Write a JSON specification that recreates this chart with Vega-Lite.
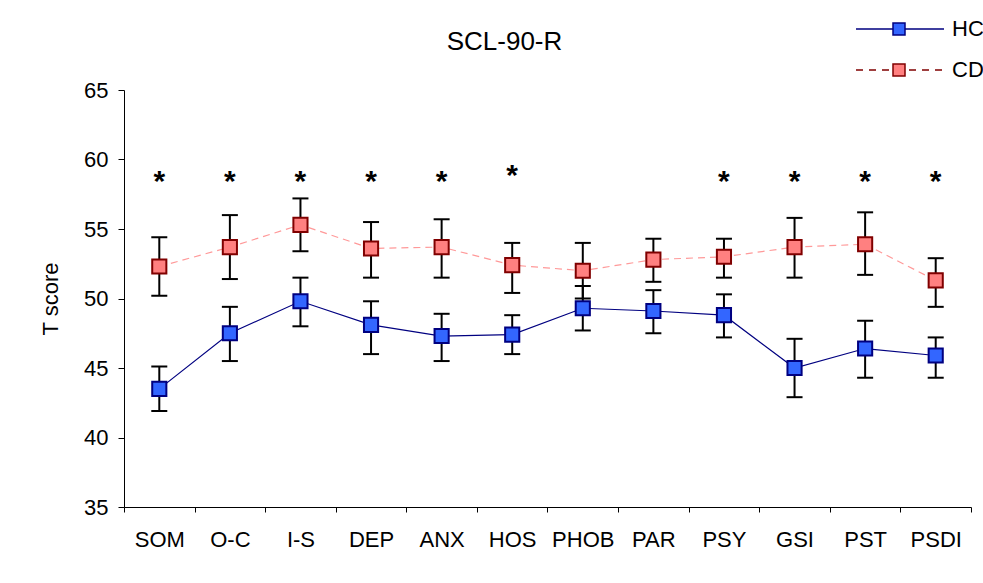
{
  "$schema": "https://vega.github.io/schema/vega-lite/v6.json",
  "width": 847,
  "height": 417,
  "autosize": "none",
  "padding": {"left": 124, "top": 90, "right": 12, "bottom": 76},
  "background": "white",
  "config": {
    "font": "Liberation Sans",
    "view": {"stroke": null},
    "axis": {"grid": false, "domainColor": "black", "tickColor": "black", "labelColor": "black", "titleColor": "black", "labelFont": "Liberation Sans", "titleFont": "Liberation Sans"}
  },
  "title": {"text": "SCL-90-R", "fontSize": 26, "fontWeight": "normal", "font": "Liberation Sans", "color": "black", "dx": -43, "offset": -37, "anchor": "middle"},
  "datasets": {
    "stats": [
      {"scale": "SOM", "group": "HC", "mean": 43.5, "lo": 41.9, "hi": 45.1},
      {"scale": "SOM", "group": "CD", "mean": 52.3, "lo": 50.2, "hi": 54.4},
      {"scale": "O-C", "group": "HC", "mean": 47.5, "lo": 45.5, "hi": 49.4},
      {"scale": "O-C", "group": "CD", "mean": 53.7, "lo": 51.4, "hi": 56.0},
      {"scale": "I-S", "group": "HC", "mean": 49.8, "lo": 48.0, "hi": 51.5},
      {"scale": "I-S", "group": "CD", "mean": 55.3, "lo": 53.4, "hi": 57.2},
      {"scale": "DEP", "group": "HC", "mean": 48.1, "lo": 46.0, "hi": 49.8},
      {"scale": "DEP", "group": "CD", "mean": 53.6, "lo": 51.5, "hi": 55.5},
      {"scale": "ANX", "group": "HC", "mean": 47.3, "lo": 45.5, "hi": 48.9},
      {"scale": "ANX", "group": "CD", "mean": 53.7, "lo": 51.5, "hi": 55.7},
      {"scale": "HOS", "group": "HC", "mean": 47.4, "lo": 46.0, "hi": 48.8},
      {"scale": "HOS", "group": "CD", "mean": 52.4, "lo": 50.4, "hi": 54.0},
      {"scale": "PHOB", "group": "HC", "mean": 49.3, "lo": 47.7, "hi": 50.9},
      {"scale": "PHOB", "group": "CD", "mean": 52.0, "lo": 50.0, "hi": 54.0},
      {"scale": "PAR", "group": "HC", "mean": 49.1, "lo": 47.5, "hi": 50.6},
      {"scale": "PAR", "group": "CD", "mean": 52.8, "lo": 51.2, "hi": 54.3},
      {"scale": "PSY", "group": "HC", "mean": 48.8, "lo": 47.2, "hi": 50.3},
      {"scale": "PSY", "group": "CD", "mean": 53.0, "lo": 51.5, "hi": 54.3},
      {"scale": "GSI", "group": "HC", "mean": 45.0, "lo": 42.9, "hi": 47.1},
      {"scale": "GSI", "group": "CD", "mean": 53.7, "lo": 51.5, "hi": 55.8},
      {"scale": "PST", "group": "HC", "mean": 46.4, "lo": 44.3, "hi": 48.4},
      {"scale": "PST", "group": "CD", "mean": 53.9, "lo": 51.7, "hi": 56.2},
      {"scale": "PSDI", "group": "HC", "mean": 45.9, "lo": 44.3, "hi": 47.2},
      {"scale": "PSDI", "group": "CD", "mean": 51.3, "lo": 49.4, "hi": 52.9}
    ],
    "sig": [
      {"scale": "SOM", "mark": "*", "y": 58.4},
      {"scale": "O-C", "mark": "*", "y": 58.4},
      {"scale": "I-S", "mark": "*", "y": 58.4},
      {"scale": "DEP", "mark": "*", "y": 58.4},
      {"scale": "ANX", "mark": "*", "y": 58.4},
      {"scale": "HOS", "mark": "*", "y": 58.8},
      {"scale": "PSY", "mark": "*", "y": 58.4},
      {"scale": "GSI", "mark": "*", "y": 58.4},
      {"scale": "PST", "mark": "*", "y": 58.4},
      {"scale": "PSDI", "mark": "*", "y": 58.4}
    ]
  },
  "encoding": {
    "x": {
      "field": "scale", "type": "nominal",
      "sort": ["SOM", "O-C", "I-S", "DEP", "ANX", "HOS", "PHOB", "PAR", "PSY", "GSI", "PST", "PSDI"],
      "scale": {"type": "band", "paddingInner": 0, "paddingOuter": 0},
      "axis": {"title": null, "labelAngle": 0, "labelFontSize": 22, "tickBand": "extent", "tickSize": 5, "labelPadding": 17, "domainWidth": 1}
    }
  },
  "layer": [
    {
      "data": {"name": "stats"},
      "transform": [{"filter": "datum.group === 'HC'"}],
      "mark": {"type": "line", "strokeWidth": 1.2, "color": "#000080"},
      "encoding": {
        "y": {"field": "mean", "type": "quantitative", "scale": {"domain": [35, 65], "nice": false, "zero": false},
              "axis": {"title": "T score", "values": [35, 40, 45, 50, 55, 60, 65], "labelFontSize": 22, "titleFontSize": 22, "titleFontWeight": "normal", "tickSize": 6, "labelPadding": 10, "titlePadding": 21}}
      }
    },
    {
      "data": {"name": "stats"},
      "transform": [{"filter": "datum.group === 'CD'"}],
      "mark": {"type": "line", "strokeWidth": 1.2, "color": "#FF9999", "strokeDash": [7, 5]},
      "encoding": {
        "y": {"field": "mean", "type": "quantitative"}
      }
    },
    {
      "data": {"name": "stats"},
      "mark": {"type": "rule", "color": "black", "strokeWidth": 2},
      "encoding": {
        "y": {"field": "lo", "type": "quantitative"},
        "y2": {"field": "hi"}
      }
    },
    {
      "data": {"name": "stats"},
      "mark": {"type": "tick", "color": "black", "size": 16, "thickness": 2, "opacity": 1},
      "encoding": {"y": {"field": "lo", "type": "quantitative"}}
    },
    {
      "data": {"name": "stats"},
      "mark": {"type": "tick", "color": "black", "size": 16, "thickness": 2, "opacity": 1},
      "encoding": {"y": {"field": "hi", "type": "quantitative"}}
    },
    {
      "data": {"name": "stats"},
      "mark": {"type": "point", "shape": "square", "filled": true, "size": 200, "strokeWidth": 2, "opacity": 1},
      "encoding": {
        "y": {"field": "mean", "type": "quantitative"},
        "fill": {"field": "group", "type": "nominal", "scale": {"domain": ["HC", "CD"], "range": ["#3366FF", "#FF8080"]},
                 "legend": {"title": null, "orient": "none", "legendX": 764, "legendY": -72, "padding": 0, "symbolType": "M-4.3,0H-0.6M0.6,0H4.5M-0.6,-0.6H0.6V0.6H-0.6Z", "symbolSize": 400, "symbolStrokeWidth": 1.5, "labelFontSize": 22, "labelFont": "Liberation Sans", "labelColor": "black", "labelOffset": 42, "rowPadding": 19, "symbolOpacity": 1,
                            "encode": {"symbols": {"update": {"shape": {"signal": "datum.value === 'CD' ? 'M-4.3,0H-3.6M-3,0H-2.3M-1.7,0H-1M1,0H1.7M2.3,0H3M3.6,0H4.3M-0.6,-0.6H0.6V0.6H-0.6Z' : 'M-4.3,0H-0.6M0.6,0H4.5M-0.6,-0.6H0.6V0.6H-0.6Z'"}}}}}},
        "stroke": {"field": "group", "type": "nominal", "scale": {"domain": ["HC", "CD"], "range": ["#000080", "#800000"]},
                 "legend": {"title": null, "orient": "none", "legendX": 764, "legendY": -72, "padding": 0, "symbolType": "M-4.3,0H-0.6M0.6,0H4.5M-0.6,-0.6H0.6V0.6H-0.6Z", "symbolSize": 400, "symbolStrokeWidth": 1.5, "labelFontSize": 22, "labelFont": "Liberation Sans", "labelColor": "black", "labelOffset": 42, "rowPadding": 19, "symbolOpacity": 1,
                            "encode": {"symbols": {"update": {"shape": {"signal": "datum.value === 'CD' ? 'M-4.3,0H-3.6M-3,0H-2.3M-1.7,0H-1M1,0H1.7M2.3,0H3M3.6,0H4.3M-0.6,-0.6H0.6V0.6H-0.6Z' : 'M-4.3,0H-0.6M0.6,0H4.5M-0.6,-0.6H0.6V0.6H-0.6Z'"}}}}}}
      }
    },
    {
      "data": {"name": "sig"},
      "mark": {"type": "text", "fontSize": 30, "fontWeight": "bold", "color": "black", "baseline": "middle", "align": "center"},
      "encoding": {
        "y": {"field": "y", "type": "quantitative"},
        "text": {"field": "mark"}
      }
    }
  ]
}
